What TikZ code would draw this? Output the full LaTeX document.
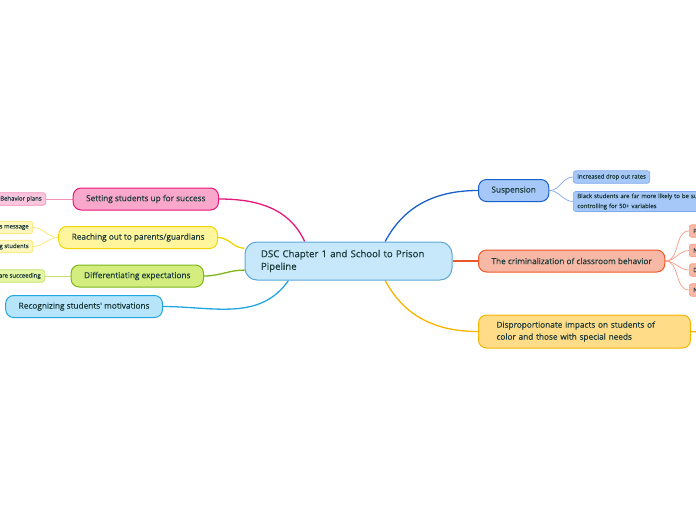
\documentclass[tikz,border=0pt]{standalone}
\usepackage{fontspec}
\setmainfont{Open Sans}[FakeBold=0.35]
\newfontfamily\medfont{Open Sans}[FakeBold=0.35]
\usepackage{xcolor}
\usepackage{tikz}
\usetikzlibrary{positioning,backgrounds}
\definecolor{txt}{HTML}{1B3A3A}
\definecolor{cenfill}{HTML}{C7E8FA}
\definecolor{cenline}{HTML}{5BA8D8}
\definecolor{pinkfill}{HTML}{F9A8CB}
\definecolor{pinkline}{HTML}{E8177A}
\definecolor{pinksub}{HTML}{FBC6DE}
\definecolor{pinksubline}{HTML}{F48FB8}
\definecolor{yelfill}{HTML}{FFF59D}
\definecolor{yelline}{HTML}{F2D600}
\definecolor{yelsub}{HTML}{FFF8BE}
\definecolor{yelsubline}{HTML}{F7E56A}
\definecolor{grnfill}{HTML}{D3EE7E}
\definecolor{grnline}{HTML}{7DB51A}
\definecolor{grnsub}{HTML}{E4F5A4}
\definecolor{grnsubline}{HTML}{C4E26A}
\definecolor{skyfill}{HTML}{B5E4FB}
\definecolor{skyline}{HTML}{22A6E2}
\definecolor{bluefill}{HTML}{A6C8F8}
\definecolor{blueline}{HTML}{1A60CC}
\definecolor{bluesubline}{HTML}{7FA9EE}
\definecolor{redfill}{HTML}{F8B8A6}
\definecolor{redline}{HTML}{EE5628}
\definecolor{redsubline}{HTML}{F69B82}
\definecolor{ambfill}{HTML}{FFDC88}
\definecolor{ambline}{HTML}{F7B400}
\tikzset{
  central/.style  = {draw=cenline, fill=cenfill, line width=1pt, rounded corners=12pt,
                     text width=175pt, align=left, inner xsep=16pt, minimum height=38pt,
                     font=\medfont\fontsize{9.6}{12.6}\selectfont, text=txt},
  topic/.style    = {draw, line width=1pt, rounded corners=8pt, minimum height=22pt,
                     inner xsep=13pt, font=\medfont\fontsize{8.25}{10}\selectfont, text=txt},
  subtopic/.style = {draw, line width=0.6pt, rounded corners=2.5pt, minimum height=12.5pt,
                     inner xsep=4pt, inner ysep=2pt, font=\fontsize{6}{8}\selectfont, text=txt},
  edgebox/.style  = {subtopic, anchor=west, text width=20pt, align=left},
  branch/.style   = {line width=1.3pt},
  twig/.style     = {line width=0.7pt},
}
\begin{document}
\begin{tikzpicture}[x=1pt,y=-1pt]
  \useasboundingbox (0,0) rectangle (696,520);
  \clip (0,0) rectangle (696,520);

  \node[central] (dsc) at (348.5,261) {DSC Chapter 1 and School to Prison\\Pipeline};

  % left side
  \node[topic, draw=pinkline, fill=pinkfill, anchor=east] (setting) at (219,199) {Setting students up for success};
  \node[topic, draw=yelline, fill=yelfill, anchor=east] (reaching) at (218,237.5) {Reaching out to parents/guardians};
  \node[topic, draw=grnline, fill=grnfill, anchor=east] (diff) at (204,276) {Differentiating expectations};
  \node[topic, draw=skyline, fill=skyfill, anchor=east] (recog) at (163,306.5) {Recognizing students' motivations};

  \node[subtopic, draw=pinksubline, fill=pinksub, anchor=east] (behav) at (46,199) {Behavior plans};
  \node[subtopic, draw=yelsubline, fill=yelsub, anchor=east] (msg) at (33,227.5) {s message};
  \node[subtopic, draw=yelsubline, fill=yelsub, anchor=east] (stud) at (33,246.5) {g students};
  \node[subtopic, draw=grnsubline, fill=grnsub, anchor=east] (succ) at (45,276) {are succeeding};

  % right side
  \node[topic, draw=blueline, fill=bluefill, anchor=west] (susp) at (478,190.5) {Suspension};
  \node[topic, draw=redline, fill=redfill, anchor=west] (crim) at (478,261) {The criminalization of classroom behavior};
  \node[topic, draw=ambline, fill=ambfill, anchor=west, text width=176pt, align=left, inner xsep=18pt,
        minimum height=33pt, font=\medfont\fontsize{8.25}{12}\selectfont] (disp) at (478,331.5)
        {Disproportionate impacts on students of\\color and those with special needs};
  \coordinate (dispoff) at (710,333);

  \node[subtopic, draw=bluesubline, fill=bluefill, anchor=west] (drop) at (573,177) {Increased drop out rates};
  \node[subtopic, draw=bluesubline, fill=bluefill, anchor=west, text width=150pt, align=left,
        font=\fontsize{6}{10}\selectfont] (black) at (573,201.5)
        {Black students are far more likely to be sus\\controlling for 50+ variables};

  \node[edgebox, draw=redsubline, fill=redfill] (cp) at (689,231) {P};
  \node[edgebox, draw=redsubline, fill=redfill] (cn) at (689,250.5) {N};
  \node[edgebox, draw=redsubline, fill=redfill] (cd) at (689,270) {D};
  \node[edgebox, draw=redsubline, fill=redfill] (cm) at (689,290) {N};

  \begin{scope}[on background layer]
    \draw[branch, pinkline] (dsc.156) to[out=115, in=0] (setting.east);
    \draw[branch, yelline] (dsc.173) to[out=180, in=0] (reaching.east);
    \draw[branch, grnline] (dsc.185) to[out=180, in=0] (diff.east);
    \draw[branch, skyline] (dsc.198) to[out=235, in=0] (recog.east);
    \draw[branch, blueline] (dsc.28) to[out=62, in=180] (susp.west);
    \draw[branch, redline] (dsc.east) to (crim.west);
    \draw[branch, ambline] (dsc.332) to[out=298, in=180] (disp.west);
    \draw[branch, ambline] (disp.east) to (dispoff);

    \draw[twig, pinksubline] (setting.west) to (behav.east);
    \draw[twig, yelsubline] (reaching.west) to[out=180, in=0] (msg.east);
    \draw[twig, yelsubline] (reaching.west) to[out=180, in=0] (stud.east);
    \draw[twig, grnsubline] (diff.west) to (succ.east);

    \draw[twig, bluesubline] (susp.east) to[out=0, in=180] (drop.west);
    \draw[twig, bluesubline] (susp.east) to[out=0, in=180] (black.west);
    \foreach \s in {cp,cn,cd,cm}
      \draw[twig, redsubline] (crim.east) to[out=0, in=180] (\s.west);
  \end{scope}
\end{tikzpicture}
\end{document}
